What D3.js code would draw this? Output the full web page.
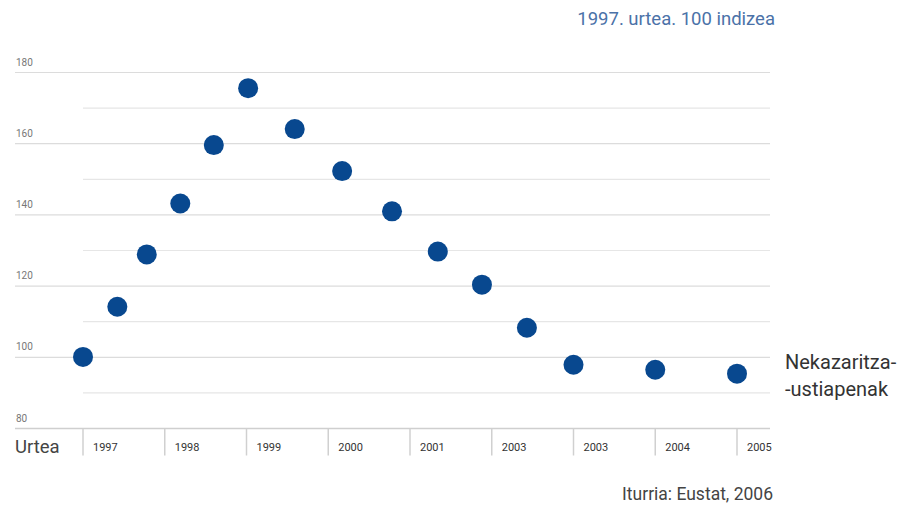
<!DOCTYPE html>
<html>
<head>
<meta charset="utf-8">
<script src="https://cdn.jsdelivr.net/npm/d3@7"></script>
<style>
  body { margin: 0; background: #fff; }
  text { font-family: Roboto, "Noto Sans", sans-serif; }
</style>
</head>
<body>
<div class="chart"></div>
<script>
// dot positions: fractional year + index value (1997 = 100)
var years = [1997, 1997.42, 1997.78, 1998.19, 1998.6, 1999.02, 1999.59, 2000.17, 2000.78, 2001.34, 2001.88, 2002.43, 2003, 2004, 2005];
var values = [100.1, 114.2, 128.9, 143.2, 159.6, 175.6, 164.1, 152.3, 141, 129.7, 120.4, 108.3, 97.9, 96.5, 95.4];
var tickYears = [1997, 1998, 1999, 2000, 2001, 2002, 2003, 2004, 2005];
var tickLabels = ["1997", "1998", "1999", "2000", "2001", "2003", "2003", "2004", "2005"];
var yMajor = [180, 160, 140, 120, 100];
var yMinor = [170, 150, 130, 110, 90];

var width = 904, height = 505;

var svg = d3.select('.chart').append('svg')
  .attr('width', width)
  .attr('height', height)

var x = d3.scaleLinear().domain([1997, 2005]).range([83, 737]);
var y = d3.scaleLinear().domain([80, 180]).range([428.5, 72.5]);
var lineEnd = 770;

// grid lines, majors from the left edge, minors from first tick
svg.selectAll('.major').data(yMajor).enter().append('line')
  .attr('x1', 15).attr('x2', lineEnd)
  .attr('y1', d => y(d)).attr('y2', d => y(d))
  .attr('stroke', '#dcdcdc').attr('stroke-width', 1.2);

svg.selectAll('.minor').data(yMinor).enter().append('line')
  .attr('x1', x(1997)).attr('x2', lineEnd)
  .attr('y1', d => y(d)).attr('y2', d => y(d))
  .attr('stroke', '#e6e6e6').attr('stroke-width', 1.2);

svg.selectAll('.ylab').data(yMajor.concat([80])).enter().append('text')
  .attr('x', 16).attr('y', d => y(d) - 7)
  .attr('font-size', 10).attr('fill', '#777')
  .text(d => d);

// x axis
svg.append('line')
  .attr('x1', 15).attr('x2', lineEnd)
  .attr('y1', y(80)).attr('y2', y(80))
  .attr('stroke', '#cfcfcf').attr('stroke-width', 1.5);

svg.selectAll('.xtick').data(tickYears).enter().append('line')
  .attr('x1', d => x(d)).attr('x2', d => x(d))
  .attr('y1', y(80)).attr('y2', y(80) + 27)
  .attr('stroke', '#d0d0d0').attr('stroke-width', 1.5);

svg.selectAll('.xlab').data(tickYears).enter().append('text')
  .attr('x', d => x(d) + 10).attr('y', y(80) + 22)
  .attr('font-size', 11).attr('fill', '#333')
  .text((d, i) => tickLabels[i]);

svg.append('text')
  .attr('x', 15).attr('y', y(80) + 24)
  .attr('font-size', 18.5).attr('fill', '#444')
  .text('Urtea');

// dots
svg.selectAll('circle').data(years).enter().append('circle')
  .attr('cx', d => x(d))
  .attr('cy', (d, i) => y(values[i]))
  .attr('r', 10)
  .attr('fill', '#08488f');

// labels
svg.append('text')
  .attr('x', 775).attr('y', 25)
  .attr('text-anchor', 'end')
  .attr('font-size', 18.5).attr('fill', '#4b72a8')
  .text('1997. urtea. 100 indizea');

svg.append('text')
  .attr('x', 785).attr('y', 369)
  .attr('font-size', 20).attr('fill', '#333')
  .text('Nekazaritza-');
svg.append('text')
  .attr('x', 785).attr('y', 396)
  .attr('font-size', 20).attr('fill', '#333')
  .text('-ustiapenak');

svg.append('text')
  .attr('x', 773).attr('y', 500)
  .attr('text-anchor', 'end')
  .attr('font-size', 17.5).attr('fill', '#444')
  .text('Iturria: Eustat, 2006');
</script>
</body>
</html>
